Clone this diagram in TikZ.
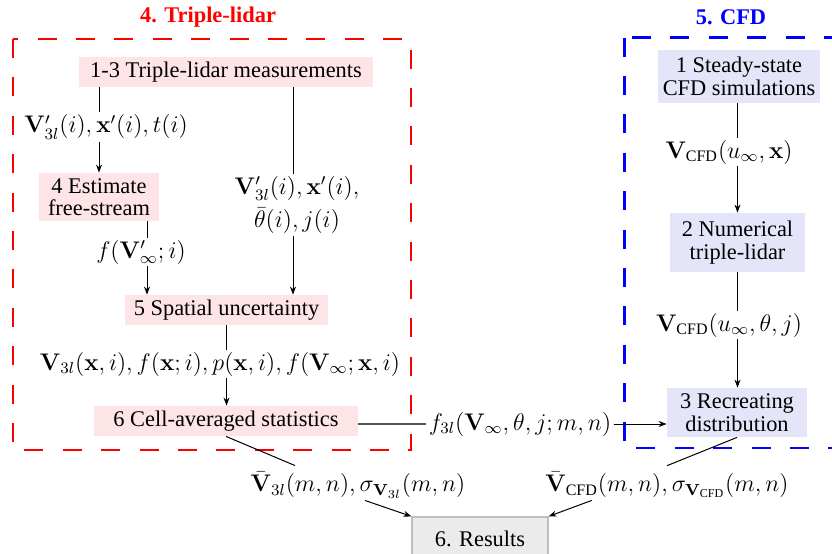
\documentclass[tikz,border=0pt]{standalone}
\usepackage{amsmath}
\usepackage[no-math]{fontspec}
\setmainfont{Liberation Serif}
\newfontfamily\tnrfont{Liberation Serif}
\usetikzlibrary{arrows.meta,calc}
\definecolor{pinkfill}{RGB}{253,228,230}
\definecolor{bluefill}{RGB}{229,229,250}
\definecolor{resfill}{RGB}{235,235,235}
\definecolor{resdraw}{RGB}{190,190,190}
\definecolor{linkgray}{RGB}{85,85,85}
\begin{document}
\begin{tikzpicture}[x=0.5pt,y=-0.5pt,
  every node/.style={font=\tnrfont\fontsize{11.2}{11.2}\selectfont},
  tlbox/.style={fill=pinkfill,inner sep=0pt,align=center},
  cfdbox/.style={fill=bluefill,inner sep=0pt,align=center},
  resbox/.style={fill=resfill,draw=resdraw,line width=0.6pt,inner sep=0pt,align=center},
  lab/.style={inner sep=1pt,align=center,font=\tnrfont\fontsize{12}{12.5}\selectfont},
  conn/.style={line width=0.5pt},
  arr/.style={line width=0.5pt,-{Stealth[length=4pt,width=3pt]}},
  redframe/.style={draw=red,line width=1.1pt,dash pattern=on 9.5pt off 9.7pt},
  blueframe/.style={draw=blue,line width=1.1pt,dash pattern=on 9.5pt off 9.7pt},
  ttl/.style={font=\tnrfont\fontsize{11.2}{11.2}\selectfont\bfseries}
]
\useasboundingbox (0,0) rectangle (832,553);

% frames and titles
\draw[redframe] (13,39) rectangle (411,450);
\draw[blueframe] (624.5,37.5) rectangle (880,448);
\node[ttl,text=red] (t4) at (208,17) {4. Triple-lidar};
\node[ttl,text=blue] (t5) at (731,17) {5. CFD};

% triple-lidar boxes
\node[tlbox,minimum width=147pt,minimum height=15pt] (b1) at (226,72) {1-3 Triple-lidar measurements};
\node[tlbox,minimum width=60pt,minimum height=24pt] (b4) at (99,197) {4 Estimate\\free-stream};
\node[tlbox,minimum width=101.5pt,minimum height=15pt] (b5) at (226.5,310) {5 Spatial uncertainty};
\node[tlbox,minimum width=132pt,minimum height=15pt] (b6) at (226,421) {6 Cell-averaged statistics};

% CFD boxes
\node[cfdbox,minimum width=81pt,minimum height=26.5pt] (c1) at (739,76.5) {1 Steady-state\\CFD simulations};
\node[cfdbox,minimum width=67.5pt,minimum height=29.5pt] (c2) at (737.5,242.5) {2 Numerical\\triple-lidar};
\node[cfdbox,minimum width=70pt,minimum height=24.5pt] (c3) at (737,412.5) {3 Recreating\\distribution};

% results
\node[resbox,minimum width=68pt,minimum height=21.5pt] (res) at (480,538.5) {6. Results};

% labels
\node[lab] (l1) at (106,127) {$\mathbf{V}'_{3l}(i), \mathbf{x}'(i), t(i)$};
\node[lab] (l2) at (297,205) {$\mathbf{V}'_{3l}(i), \mathbf{x}'(i),$\\[2.5pt]$\bar{\theta}(i), j(i)$};
\node[lab] (l3) at (141,252) {$f(\mathbf{V}'_{\infty}; i)$};
\node[lab] (l4) at (220,364) {$\mathbf{V}_{3l}(\mathbf{x}, i), f(\mathbf{x}; i), p(\mathbf{x}, i), f(\mathbf{V}_{\infty}; \mathbf{x}, i)$};
\node[lab] (f3) at (520,424) {$f_{3l}(\mathbf{V}_{\infty}, \theta, j; m, n)$};
\node[lab] (lc1) at (729,152) {$\mathbf{V}_{\text{CFD}}(u_{\infty}, \mathbf{x})$};
\node[lab] (lc2) at (729,325) {$\mathbf{V}_{\text{CFD}}(u_{\infty}, \theta, j)$};
\node[lab] (lr1) at (358,485) {$\bar{\mathbf{V}}_{3l}(m,n), \sigma_{\mathbf{V}_{3l}}(m,n)$};
\node[lab] (lr2) at (667,485) {$\bar{\mathbf{V}}_{\text{CFD}}(m,n), \sigma_{\mathbf{V}_{\text{CFD}}}(m,n)$};

% triple-lidar connectors
\draw[conn] (b4 |- b1.south) -- (b4 |- l1.north);
\draw[arr] (b4 |- l1.south) -- (b4.north);
\draw[conn] ([xshift=-2pt]l2.north |- b1.south) -- ([xshift=-2pt]l2.north);
\draw[arr] ([xshift=-2pt]l2.south) -- ([xshift=-2pt]l2.south |- b5.north);
\draw[conn] ([xshift=3pt]l3.north |- b4.south) -- ([xshift=3pt]l3.north);
\draw[arr] ([xshift=3pt]l3.south) -- ([xshift=3pt]l3.south |- b5.north);
\draw[conn] (b5.south) -- (b5.south |- l4.north);
\draw[arr] (b5.south |- l4.south) -- (b6.north -| b5.south);

% cross link
\draw[line width=0.7pt,draw=linkgray] (b6.east |- f3.west) -- (f3.west);
\draw[arr] (f3.east) -- (f3.east -| c3.west);

% CFD connectors
\draw[conn] (c2 |- c1.south) -- (c2 |- lc1.north);
\draw[arr] (c2 |- lc1.south) -- (c2.north);
\draw[conn] (c2.south) -- (c2 |- lc2.north);
\draw[arr] (c2 |- lc2.south) -- (c3.north -| c2.south);

% results connectors
\draw[conn] (b6.south) -- ([xshift=-31.5pt,yshift=2pt]lr1.north);
\draw[arr] ([xshift=3.5pt]lr1.south) -- (res.north west);
\draw[conn] (c3.south) -- ([yshift=2pt]lr2.north);
\draw[arr] ([xshift=-37.5pt]lr2.south) -- (res.north east);
\end{tikzpicture}
\end{document}
